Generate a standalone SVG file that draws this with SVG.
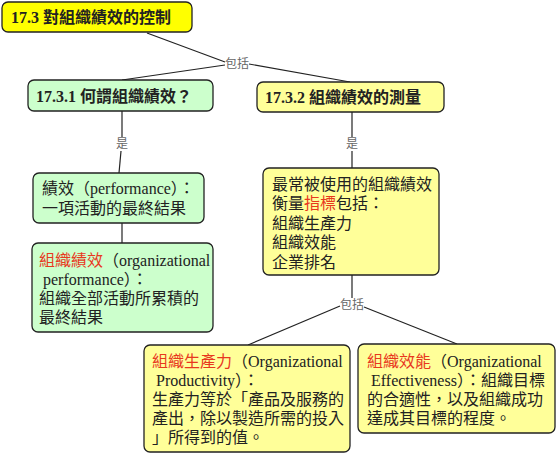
<svg xmlns="http://www.w3.org/2000/svg" width="558" height="454" viewBox="0 0 558 454">
<style>
.box{stroke:#222;stroke-width:1.3}
.y1{fill:#ffff00}
.g{fill:#ccffcc}
.y2{fill:#ffff99}
.t{font-family:"Liberation Serif","Noto Sans CJK TC",serif;font-size:16px;fill:#222}
.b{font-weight:bold;font-size:16px}
.lat{font-size:16px}
.red{fill:#e8381e}
.lbl{font-family:"Noto Sans CJK TC","Noto Sans",sans-serif;font-size:12px;fill:#666;text-anchor:middle}
.c line{stroke:#222;stroke-width:1.2}
</style>
<rect width="558" height="454" fill="#fff"/>
<g class="c" id="connectors">
<line x1="147" y1="33" x2="225" y2="62"/>
<line x1="225" y1="65" x2="122" y2="80"/>
<line x1="249" y1="64" x2="350" y2="82"/>
<text class="lbl" x="237" y="68">包括</text>
<line x1="122" y1="111" x2="122" y2="137"/>
<line x1="121" y1="151" x2="119" y2="173"/>
<text class="lbl" x="122" y="148">是</text>
<line x1="122" y1="223" x2="122" y2="243"/>
<line x1="352" y1="112" x2="352" y2="137"/>
<line x1="352" y1="151" x2="352" y2="168"/>
<text class="lbl" x="352" y="148">是</text>
<line x1="352" y1="275" x2="352" y2="298"/>
<line x1="340" y1="306" x2="248" y2="345"/>
<line x1="364" y1="307" x2="457" y2="344"/>
<text class="lbl" x="352" y="309">包括</text>
</g>
<g id="n1">
<rect class="box y1" x="2" y="2" width="190" height="30" rx="6"/>
<text class="t b" x="11" y="23">17.3 對組織績效的控制</text>
</g>
<g id="n2">
<rect class="box g" x="28" y="80" width="185" height="31" rx="6"/>
<text class="t b" x="36" y="102">17.3.1 何謂組織績效？</text>
</g>
<g id="n3">
<rect class="box y2" x="257" y="82" width="187" height="30" rx="6"/>
<text class="t b" x="265" y="103">17.3.2 組織績效的測量</text>
</g>
<g id="n4">
<rect class="box g" x="33" y="173" width="171" height="50" rx="6"/>
<text class="t" x="42" y="194">績效（<tspan class="lat">performance</tspan>）：</text>
<text class="t" x="42" y="214">一項活動的最終結果</text>
</g>
<g id="n5">
<rect class="box g" x="32" y="243" width="181" height="89" rx="6"/>
<text class="t" x="39" y="266"><tspan class="red">組織績效</tspan>（<tspan class="lat">organizational</tspan></text>
<text class="t" x="43" y="285"><tspan class="lat">performance</tspan>）：</text>
<text class="t" x="39" y="304">組織全部活動所累積的</text>
<text class="t" x="39" y="323">最終結果</text>
</g>
<g id="n6">
<rect class="box y2" x="263" y="168" width="176" height="107" rx="6"/>
<text class="t" x="272" y="190">最常被使用的組織績效</text>
<text class="t" x="272" y="209">衡量<tspan class="red">指標</tspan>包括：</text>
<text class="t" x="272" y="229">組織生產力</text>
<text class="t" x="272" y="248">組織效能</text>
<text class="t" x="272" y="268">企業排名</text>
</g>
<g id="n7">
<rect class="box y2" x="144" y="345" width="206" height="107" rx="6"/>
<text class="t" x="152" y="367"><tspan class="red">組織生產力</tspan>（<tspan class="lat">Organizational</tspan></text>
<text class="t" x="156" y="386"><tspan class="lat">Productivity</tspan>）：</text>
<text class="t" x="152" y="405">生產力等於「產品及服務的</text>
<text class="t" x="152" y="424">產出，除以製造所需的投入</text>
<text class="t" x="152" y="443">」所得到的值。</text>
</g>
<g id="n8">
<rect class="box y2" x="358" y="344" width="197" height="89" rx="6"/>
<text class="t" x="367" y="367"><tspan class="red">組織效能</tspan>（<tspan class="lat">Organizational</tspan></text>
<text class="t" x="371" y="386"><tspan class="lat">Effectiveness</tspan>）：組織目標</text>
<text class="t" x="367" y="405">的合適性，以及組織成功</text>
<text class="t" x="367" y="424">達成其目標的程度。</text>
</g>
</svg>
